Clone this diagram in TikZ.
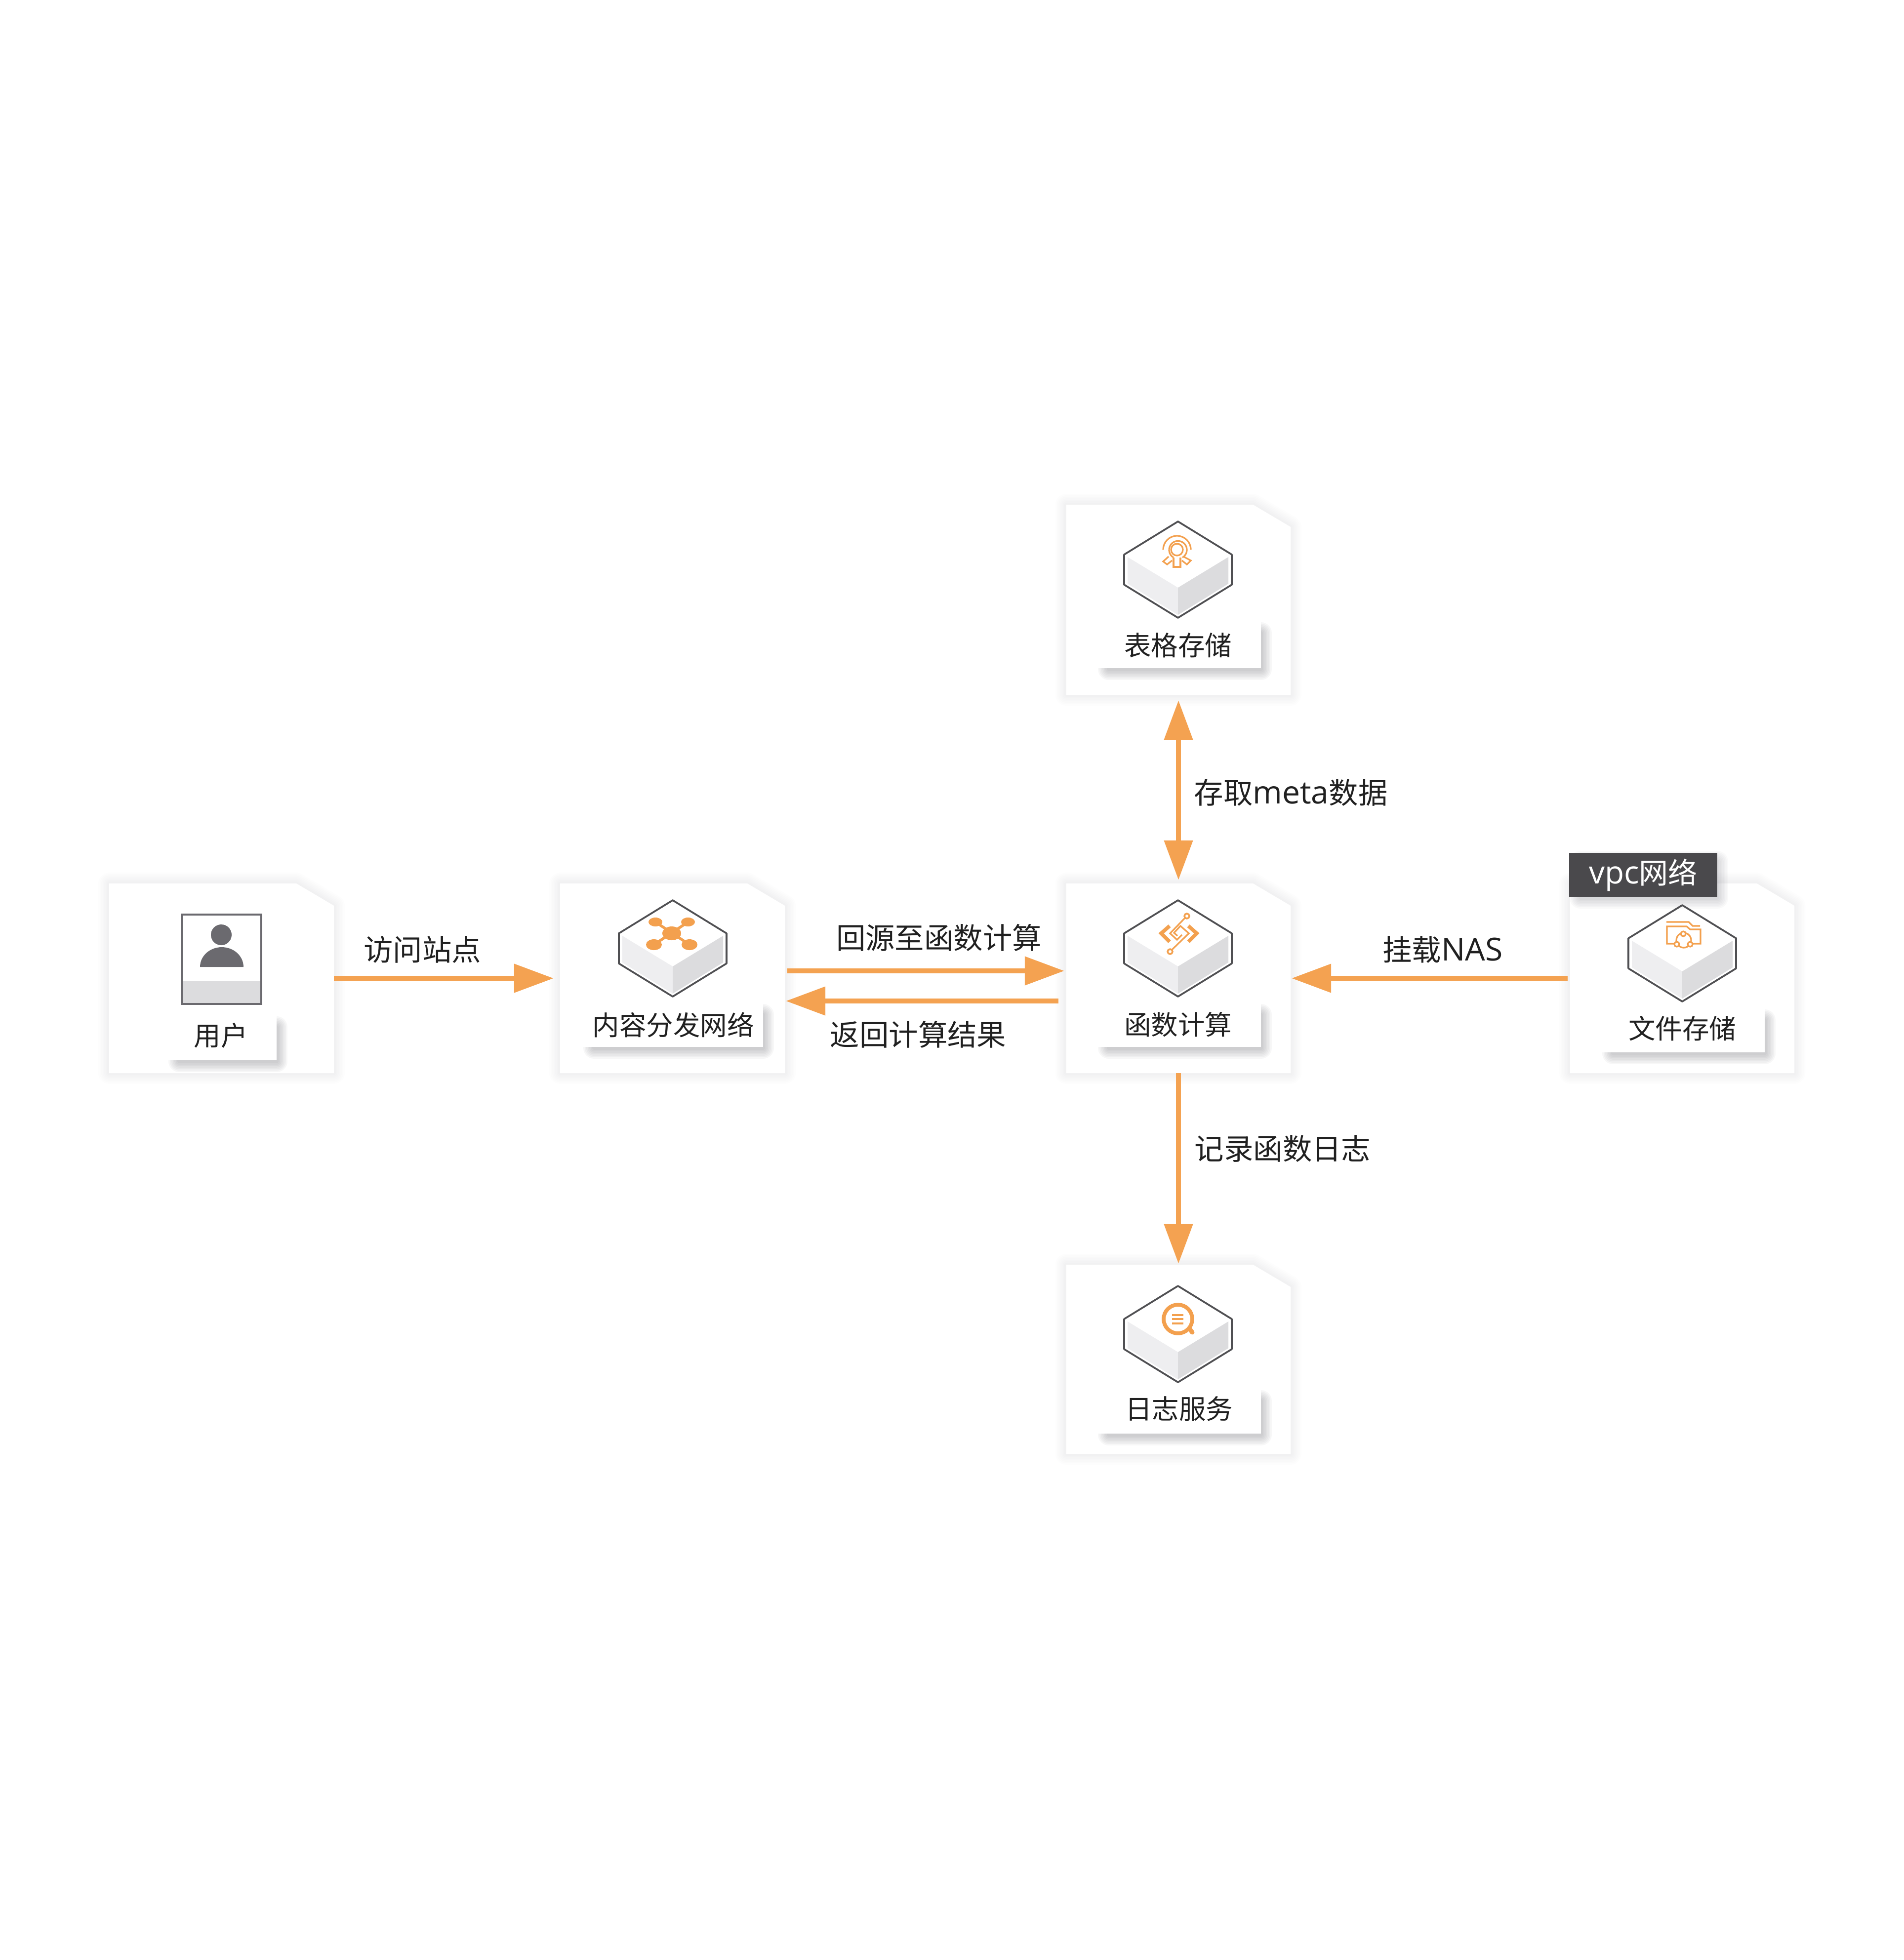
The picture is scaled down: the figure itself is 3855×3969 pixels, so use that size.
\documentclass[tikz,border=0pt]{standalone}
\usepackage{fontspec}
\setmainfont{Noto Sans CJK SC}
\newfontfamily\latfont[Scale=1.08]{Open Sans}
\usetikzlibrary{arrows.meta,fit,calc}
\definecolor{flowc}{HTML}{F4A251}
\definecolor{iconc}{HTML}{F3A04E}
\definecolor{cubeline}{HTML}{505053}
\definecolor{faceL}{HTML}{EEEEF0}
\definecolor{faceR}{HTML}{DCDCDE}
\definecolor{usergray}{HTML}{6B6A6F}
\definecolor{badgec}{HTML}{4A494C}
\definecolor{txtc}{HTML}{202020}
\definecolor{shadec}{HTML}{50505C}
\definecolor{softc}{HTML}{80808A}
\tikzset{
  flow/.style={draw=flowc,line width=.105cm,-{Triangle[length=.8cm,width=.56cm]},fill=none},
  flowboth/.style={draw=flowc,line width=.105cm,{Triangle[length=.8cm,width=.56cm]}-{Triangle[length=.8cm,width=.56cm]}},
  edgelabel/.style={inner sep=0,text=txtc,font=\fontsize{16.9pt}{20pt}\selectfont},
  cardlabel/.style={inner sep=0,text=txtc,font=\fontsize{15.5pt}{19pt}\selectfont},
  badgelabel/.style={inner sep=0,text=white,font=\fontsize{16.8pt}{20pt}\selectfont},
  cardnode/.style={inner sep=0,outer sep=0},
  iconline/.style={draw=iconc,line width=.032cm,line join=miter}
}
% name, left, top, right, bottom
\newcommand{\papercard}[5]{%
  \foreach \w in {.44,.38,.32,.26,.20,.14,.08}{
    \draw[draw=softc,line width=\w cm,line join=round,opacity=.016]
      (#2,#3) -- ({#4-76},#3) -- (#4,{#3+45}) -- (#4,#5) -- (#2,#5) -- cycle;
  }
  \fill[white] (#2,#3) -- ({#4-76},#3) -- (#4,{#3+45}) -- (#4,#5) -- (#2,#5) -- cycle;
  \coordinate (#1-a) at (#2,#3);
  \coordinate (#1-b) at (#4,#5);
  \node[cardnode,fit=(#1-a)(#1-b)] (#1) {};
}
% left, top, right, bottom
\newcommand{\labelplate}[4]{%
  \foreach \w in {.44,.38,.32,.26,.20,.14,.08}{
    \draw[draw=shadec,line width=\w cm,line join=round,opacity=.045]
      ({#1+25},{#2+25}) rectangle (#3,{#4+2});
  }
  \fill[white] ({#1-3},#2) rectangle (#3,#4);
}
\newcommand{\cubeshape}[2]{%
  \begin{scope}[shift={(#1,#2)}]
    \fill[white] (0,0) -- (109,67) -- (109,128) -- (0,195) -- (-109,128) -- (-109,67) -- cycle;
    \fill[faceL] (-102,72) -- (0,134) -- (0,189) -- (-102,126) -- cycle;
    \fill[faceR] (102,72) -- (0,134) -- (0,189) -- (102,126) -- cycle;
    \draw[cubeline,line width=.036cm,line join=round]
      (0,0) -- (109,67) -- (109,128) -- (0,195) -- (-109,128) -- (-109,67) -- cycle;
  \end{scope}
}
\begin{document}
\begin{tikzpicture}[x=.01cm,y=-.01cm]
\useasboundingbox (0,0) rectangle (3855,3969);

% cards
\papercard{table}{2159}{1022}{2613}{1407}
\papercard{user}{221}{1789}{676}{2173}
\papercard{cdn}{1134}{1789}{1589}{2173}
\papercard{fn}{2159}{1789}{2613}{2173}
\papercard{nas}{3179}{1789}{3633}{2173}
\papercard{logs}{2159}{2561}{2613}{2944}

% label plates
\labelplate{2220}{1257}{2553}{1353}
\labelplate{338}{2055}{560}{2147}
\labelplate{1178}{2030}{1545}{2120}
\labelplate{2220}{2030}{2553}{2120}
\labelplate{3241}{2041}{3573}{2131}
\labelplate{2220}{2812}{2553}{2903}

% cubes
\cubeshape{2385}{1056}
\cubeshape{1362}{1823}
\cubeshape{2385}{1823}
\cubeshape{3406}{1833}
\cubeshape{2385}{2604}

% table-store icon
\begin{scope}[shift={(2385,1056)}]
  \draw[iconline] (-30,57) arc[start angle=180,end angle=360,radius=28];
  \draw[iconline] (-9,73) arc[start angle=120,end angle=420,radius=18];
  \draw[iconline] (-2,57) circle[radius=12];
  \draw[iconline] (-9,73) -- (-9,92) -- (5,92) -- (5,73);
  \draw[iconline] (-19,71) -- (-30,81) -- (-22,87) -- (-12,79);
  \draw[iconline] (11,71) -- (26,79) -- (18,87) -- (8,79);
\end{scope}

% cdn icon
\begin{scope}[shift={(1362,1823)}]
  \draw[draw=iconc,line width=.055cm] (-35,44) -- (34,90) (31,44) -- (-38,90);
  \fill[iconc] (-2,67) ellipse[x radius=19,y radius=14];
  \fill[iconc] (-35,44) ellipse[x radius=14,y radius=9];
  \fill[iconc] (31,44) ellipse[x radius=14,y radius=9];
  \fill[iconc] (-38,90) ellipse[x radius=16,y radius=11];
  \fill[iconc] (34,90) ellipse[x radius=16,y radius=11];
\end{scope}

% function icon
\begin{scope}[shift={(2385,1823)}]
  \draw[draw=iconc,line width=.075cm] (-17,52) -- (-34,67) -- (-17,84);
  \draw[draw=iconc,line width=.075cm] (21,52) -- (38,67) -- (21,84);
  \draw[iconline] (14,36) -- (-16,67) -- (-2,80) -- (8,70);
  \draw[iconline] (-12,100) -- (22,67) -- (5,52) -- (-8,66) -- (-1,72);
  \draw[draw=iconc,line width=.035cm,fill=white] (18,32) circle[radius=5];
  \draw[draw=iconc,line width=.035cm,fill=white] (-16,104) circle[radius=5];
\end{scope}

% file-storage icon
\begin{scope}[shift={(3406,1833)}]
  \draw[iconline] (-32,34) -- (13,34) -- (21,42) -- (36,42);
  \draw[iconline] (-16,78) -- (-31,78) -- (-31,43) -- (9,43) -- (16,49) -- (37,49) -- (37,78) -- (16,78);
  \draw[iconline,fill=white] (3,71) circle[radius=15];
  \draw[iconline,fill=white] (2,58) circle[radius=5];
  \draw[iconline,fill=white] (-11,79) circle[radius=5];
  \draw[iconline,fill=white] (16,79) circle[radius=5];
\end{scope}

% log icon
\begin{scope}[shift={(2385,2604)}]
  \draw[draw=iconc,line width=.09cm,line cap=round] (22,85) -- (29,94);
  \draw[draw=iconc,line width=.078cm,fill=white] (0,67) circle[radius=29];
  \draw[draw=iconc,line width=.032cm]
    (-12,59) -- (11,59) (-12,67) -- (11,67) (-12,76) -- (11,76);
\end{scope}

% user icon
\fill[faceR] (368,1987) rectangle (529,2033);
\draw[usergray,line width=.036cm] (368,1852) rectangle (529,2033);
\fill[usergray] (448,1893) circle[radius=21];
\fill[usergray] (405,1958) arc[start angle=180,end angle=360,x radius=44,y radius=40] -- cycle;

% badge
\foreach \w in {.44,.38,.32,.26,.20,.14,.08}{
  \draw[draw=shadec,line width=\w cm,line join=round,opacity=.03] (3200,1745) rectangle (3477,1818);
}
\node[fill=badgec,inner sep=0,minimum width=3cm,minimum height=.89cm] (vpcbadge) at (3327,1771.5) {};
\node[badgelabel] (vpclabel) at (3327,1772) {{\latfont vpc}网络};

% card labels
\node[cardlabel] (l-table) at (2385,1307) {表格存储};
\node[cardlabel] (l-user) at (447,2097) {用户};
\node[cardlabel] (l-cdn) at (1363,2075) {内容分发网络};
\node[cardlabel] (l-fn) at (2385,2075) {函数计算};
\node[cardlabel] (l-nas) at (3406,2083) {文件存储};
\node[cardlabel] (l-logs) at (2387,2853) {日志服务};

% connectors
\draw[flow,shorten >=.13cm] (user.east) -- (cdn.west);
\draw[flow,shorten <=.05cm,shorten >=.04cm] ([yshift=.15cm]cdn.east) -- ([yshift=.15cm]fn.west);
\draw[flow,shorten <=.16cm,shorten >=.02cm] ([yshift=-.46cm]fn.west) -- ([yshift=-.46cm]cdn.east);
\draw[flow,shorten <=.05cm,shorten >=.02cm] (nas.west) -- (fn.east);
\draw[flowboth,shorten <=.11cm,shorten >=.07cm] (table.south) -- (fn.north);
\draw[flow,shorten >=.02cm] (fn.south) -- (logs.north);

% connector labels
\node[edgelabel] (e-visit) at (855,1923) {访问站点};
\node[edgelabel] (e-origin) at (1901,1899) {回源至函数计算};
\node[edgelabel] (e-return) at (1859,2095) {返回计算结果};
\node[edgelabel,anchor=west] (e-meta) at (2417,1605) {存取{\latfont meta}数据};
\node[edgelabel,anchor=west] (e-log) at (2418,2326) {记录函数日志};
\node[edgelabel] (e-nas) at (2921,1923) {挂载{\latfont NAS}};
\end{tikzpicture}
\end{document}
